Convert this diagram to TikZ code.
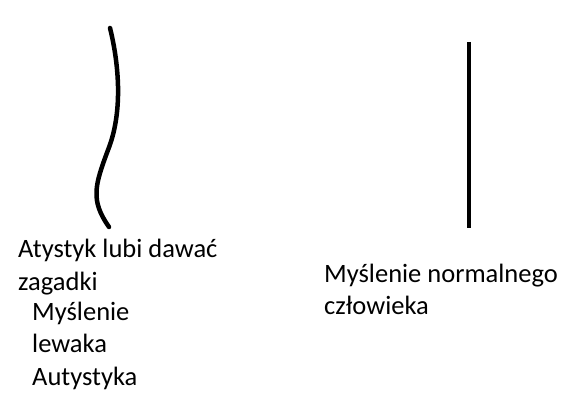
\documentclass[tikz,border=0pt]{standalone}
\usepackage{fontspec}
\setmainfont{Carlito}
\begin{document}
\begin{tikzpicture}[x=1pt,y=-1pt,
  lbl/.style={anchor=base west,inner sep=0pt,font=\fontsize{26.5}{30}\selectfont},
  stroke/.style={line width=4.5pt,line cap=round}]
\useasboundingbox[fill=white] (0,0) rectangle (573,414);
\coordinate (w1) at (110,28);
\coordinate (w2) at (109,227);
\coordinate (s1) at (469,42);
\coordinate (s2) at (469,228);
\draw[stroke] (w1) .. controls (118,60) and (124,110) .. (108,150)
  .. controls (95,185) and (90,200) .. (w2);
\draw[stroke,line cap=butt] (s1) -- (s2);
\node[lbl] (t1) at (18,258) {Atystyk lubi dawać};
\node[lbl] (t2) at (18,290) {zagadki};
\node[lbl] (t3) at (32,320) {Myślenie};
\node[lbl] (t4) at (32,352) {lewaka};
\node[lbl] (t5) at (32,385) {Autystyka};
\node[lbl] (r1) at (324,283) {Myślenie normalnego};
\node[lbl] (r2) at (324,314) {człowieka};
\end{tikzpicture}
\end{document}
